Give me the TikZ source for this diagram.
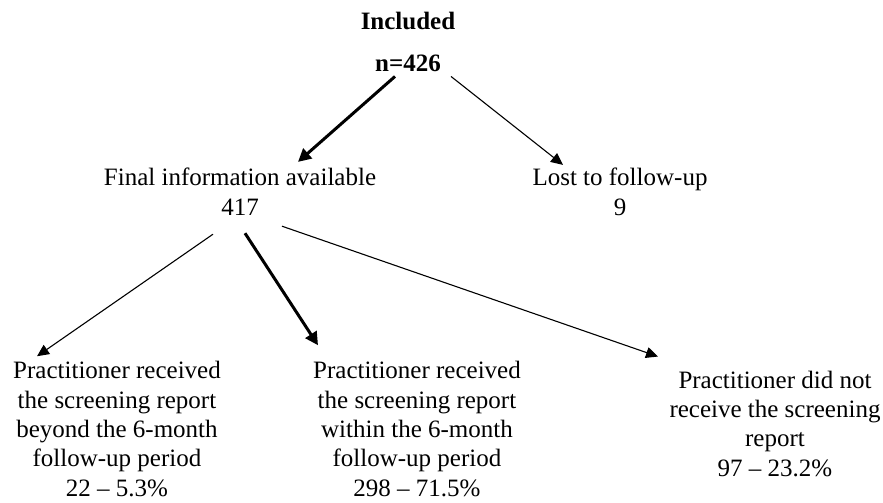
\documentclass[tikz,border=0pt]{standalone}
\usepackage{fontspec}
\setmainfont{Liberation Serif}
\usetikzlibrary{arrows.meta}
\begin{document}
\begin{tikzpicture}[x=1pt,y=-1pt,
  lbl/.style={inner sep=0pt, align=center, font=\fontsize{25}{29.3}\selectfont, anchor=base},
  thin/.style={line width=1.1pt, -{Triangle[length=12pt,width=11pt]}},
  thick/.style={line width=3pt, -{Triangle[length=13pt,width=13pt]}}]
\useasboundingbox (0,0) rectangle (883,503);
\node[lbl] (inc) at (408,30) {\bfseries Included};
\node[lbl] (n) at (408,71) {\bfseries n=426};
\node[lbl] (fin) at (240,215) {Final information available\\417};
\node[lbl] (lost) at (620,215) {Lost to follow-up\\9};
\node[lbl] (pl) at (117,496) {Practitioner received\\the screening report\\beyond the 6-month\\follow-up period\\22 -- 5.3\%};
\node[lbl] (pm) at (417,496) {Practitioner received\\the screening report\\within the 6-month\\follow-up period\\298 -- 71.5\%};
\node[lbl] (pr) at (775,476) {Practitioner did not\\receive the screening\\report\\97 -- 23.2\%};
\draw[thick] ([shift={(-13,5)}]n.south) -- ([shift={(58,-6)}]fin.north);
\draw[thin] ([shift={(43,5)}]n.south) -- ([shift={(-57,-3)}]lost.north);
\draw[thin] ([shift={(-27,19)}]fin.south) -- ([shift={(-80,-5)}]pl.north);
\draw[thick] ([shift={(5,18)}]fin.south) -- ([shift={(-99,-16)}]pm.north);
\draw[thin] ([shift={(42,11)}]fin.south) -- ([shift={(-117,-14)}]pr.north);
\end{tikzpicture}
\end{document}
